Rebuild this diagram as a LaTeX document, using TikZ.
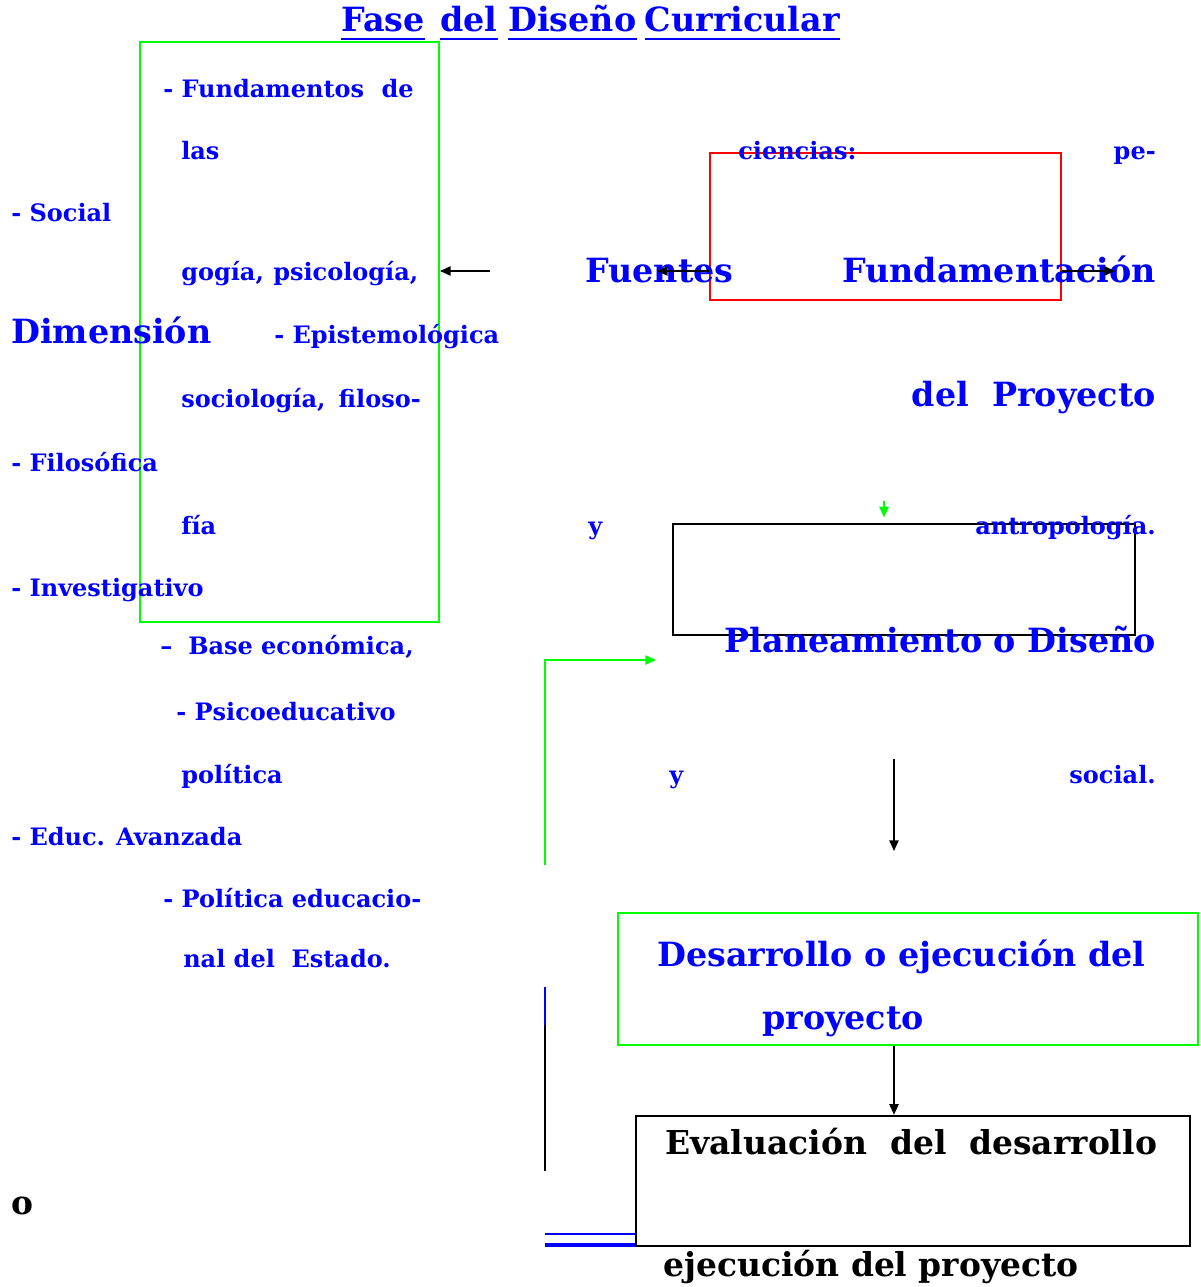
\documentclass[tikz,border=0pt]{standalone}
\usepackage{fontspec}
\setmainfont{DejaVu Serif}
\usepackage{tikz}
\usetikzlibrary{arrows.meta, positioning, calc}

\begin{document}
\begin{tikzpicture}[x=0.75pt, y=-0.75pt,
    >={Triangle[length=8pt, width=7pt]},
    sm/.style={font=\fontsize{18}{20}\selectfont\bfseries, text=blue, inner sep=0pt},
    big/.style={font=\fontsize{25}{28}\selectfont\bfseries, text=blue, inner sep=0pt},
    blk/.style={font=\fontsize{24.7}{28}\selectfont\bfseries, text=black, inner sep=0pt},
    gbox/.style={draw=green, line width=1.5pt, inner sep=0pt},
    rbox/.style={draw=red, line width=1.5pt, inner sep=0pt},
    kbox/.style={draw=black, line width=1.9pt, inner sep=0pt},
    conn/.style={line width=1.1pt}]
  \useasboundingbox (0,0) rectangle (1201,1287);

  % title
  \node[big, anchor=base west] (fase) at (341,32) {Fase};
  \node[big, anchor=base west] (del) at (440,32) {del};
  \node[big, anchor=base west] (diseno) at (508,32) {Diseño};
  \node[big, anchor=base east] (curric) at (840,32) {Curricular};
  \foreach \w in {fase, del, diseno, curric}
    \draw[blue, line width=1.6pt] ([yshift=-5pt]\w.base west) -- ([yshift=-5pt]\w.base east);

  % boxes
  \node[gbox, minimum width=224.25pt, minimum height=435pt] (dimbox) at (289.5,332) {};
  \node[rbox, minimum width=263.25pt, minimum height=110.25pt] (fuebox) at (885.5,226.5) {};
  \node[kbox, minimum width=346.5pt, minimum height=83.25pt] (plabox) at (904,579.5) {};
  \node[gbox, minimum width=435pt, minimum height=99pt] (desbox) at (908,979) {};
  \node[kbox, minimum width=415.5pt, minimum height=97.5pt] (evabox) at (913,1181) {};

  % left column
  \node[sm, anchor=base west] (fundam) at (163,98) {- Fundamentos};
  \node[sm, anchor=base east] (de) at (414,98) {de};
  \node[sm, anchor=base west] (las) at (181,160) {las};
  \node[sm, anchor=base west] (ciencias) at (738,160) {ciencias:};
  \node[sm, anchor=base east] (pe) at (1156,160) {pe-};
  \node[sm, anchor=base west] (social) at (11,222) {- Social};
  \node[sm, anchor=base west] (gogia) at (181,281) {gogía,};
  \node[sm, anchor=base west] (psico) at (273,281) {psicología,};
  \node[big, anchor=base west] (fuentes) at (585,282) {Fuentes};
  \node[big, anchor=base east] (fundament) at (1156,282) {Fundamentación};
  \node[big, anchor=base west] (dimension) at (11,343) {Dimensión};
  \node[sm, anchor=base west] (epist) at (274,344) {- Epistemológica};
  \node[sm, anchor=base west] (sociol) at (181,407) {sociología,};
  \node[sm, anchor=base east] (filoso) at (421,407) {filoso-};
  \node[big, anchor=base east] (delproy) at (1156,406) {del\ \ Proyecto};
  \node[sm, anchor=base west] (filosofica) at (11,471) {- Filosófica};
  \node[sm, anchor=base west] (fia) at (181,534) {fía};
  \node[sm, anchor=base west] (y1) at (588,534) {y};
  \node[sm, anchor=base east] (antrop) at (1156,534) {antropología.};
  \node[sm, anchor=base west] (investig) at (11,596) {- Investigativo};
  \node[sm, anchor=base west] (guion) at (160,654) {–};
  \node[sm, anchor=base west] (base) at (188,654) {Base económica,};
  \node[big, anchor=base east] (planeam) at (1156,652) {Planeamiento o Diseño};
  \node[sm, anchor=base west] (psicoed) at (176,720) {- Psicoeducativo};
  \node[sm, anchor=base west] (politica) at (181,783) {política};
  \node[sm, anchor=base west] (y2) at (669,783) {y};
  \node[sm, anchor=base east] (socialp) at (1156,783) {social.};
  \node[sm, anchor=base west] (educ) at (11,845) {- Educ. Avanzada};
  \node[sm, anchor=base west] (polit) at (163,907) {- Política educacio-};
  \node[sm, anchor=base west] (nal) at (183,967) {nal del\ \ Estado.};

  % lower boxes
  \node[big, anchor=base west] (desarrollo) at (657,966) {Desarrollo o ejecución del};
  \node[big, anchor=base west] (proyecto) at (762,1029) {proyecto};
  \node[blk, anchor=base west] (eval) at (665,1154) {Evaluación\ \ del\ \ desarrollo};
  \node[blk, anchor=base west] (ejec) at (663,1276) {ejecución del proyecto};
  \node[blk, anchor=base west] (o) at (11,1214) {o};

  % connectors
  \coordinate (a1) at (490,271);
  \coordinate (a2) at (657,271);
  \coordinate (a3) at (1115,271);
  \coordinate (a4) at (884,501);
  \coordinate (a5) at (894,759);
  \coordinate (a6) at (894,851);
  \coordinate (g1) at (545,865);
  \coordinate (g2) at (656,660);
  \draw[conn, ->] (a1) -- (a1 -| dimbox.east);
  \draw[conn, ->] (a2 -| fuebox.west) -- (a2);
  \draw[conn, ->] (a3 -| fuebox.east) -- (a3);
  \draw[conn, green, ->, shorten >=4pt] (a4) -- (a4 |- plabox.north);
  \draw[conn, green, ->] (g1) |- (g2);
  \draw[conn, ->] (a5) -- (a6);
  \draw[conn, ->] (a5 |- desbox.south) -- (a5 |- evabox.north);

  \coordinate (b1) at (545,987);
  \coordinate (b2) at (545,1025);
  \coordinate (b3) at (545,1171);
  \coordinate (b4) at (545,1234);
  \coordinate (b5) at (545,1245);
  \draw[blue, line width=1.1pt] (b1) -- (b2);
  \draw[black, line width=1.5pt] (b2) -- (b3);
  \draw[blue, line width=1.1pt] (b4) -- (b4 -| evabox.west);
  \draw[blue, line width=3pt] (b5) -- (b5 -| evabox.west);
\end{tikzpicture}
\end{document}
